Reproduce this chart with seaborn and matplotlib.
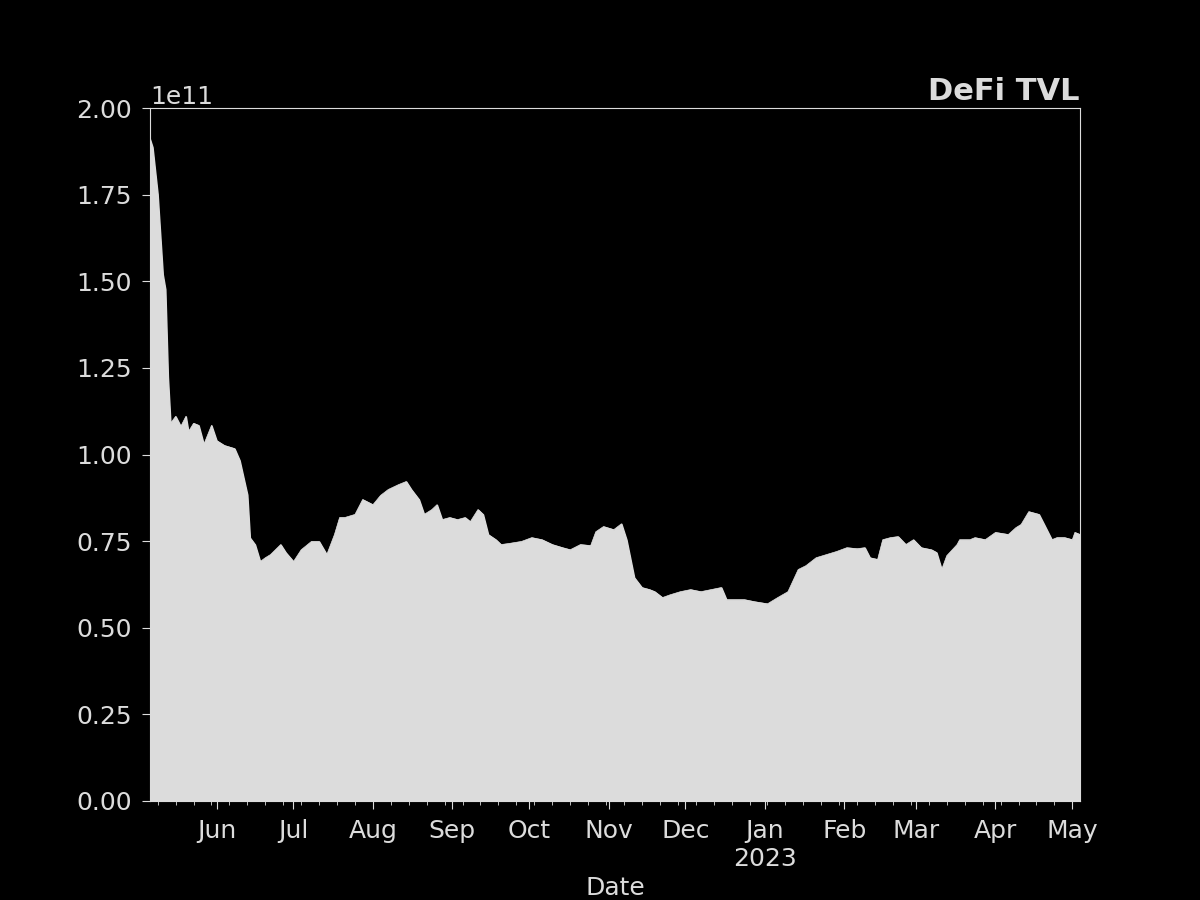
import numpy as np, pandas as pd, matplotlib
matplotlib.use("Agg")
import matplotlib.pyplot as plt, matplotlib.dates as mdates
import matplotlib.ticker as mticker
import seaborn as sns

day_offsets = [0,1,3,5,6,7,8,10,12,14,15,17,19,21,24,26,29,33,35,38,39,41,43,45,47,51,53,56,59,63,66,69,72,74,76,80,83,87,90,93,97,100,102,105,107,110,112,114,117,120,123,125,128,130,132,135,137,140,145,149,153,157,161,164,168,172,174,177,181,184,186,189,192,195,197,200,203,207,211,215,219,223,225,228,232,236,241,245,249,253,256,260,264,268,272,276,279,281,284,286,289,292,295,298,301,305,307,309,311,315,316,320,322,326,330,335,338,340,343,347,349,352,354,357,360,361,363]
tvl_1e11 = [1.910,1.887,1.751,1.520,1.477,1.225,1.090,1.110,1.081,1.110,1.066,1.090,1.084,1.029,1.084,1.040,1.026,1.017,0.983,0.884,0.760,0.740,0.691,0.702,0.711,0.740,0.717,0.691,0.725,0.749,0.749,0.711,0.769,0.818,0.818,0.827,0.870,0.855,0.882,0.899,0.913,0.922,0.899,0.870,0.827,0.841,0.855,0.812,0.818,0.812,0.818,0.806,0.841,0.827,0.769,0.754,0.740,0.743,0.749,0.760,0.754,0.740,0.731,0.725,0.740,0.737,0.777,0.792,0.783,0.800,0.754,0.645,0.616,0.610,0.604,0.587,0.595,0.604,0.610,0.604,0.610,0.616,0.581,0.581,0.581,0.575,0.569,0.587,0.604,0.668,0.679,0.702,0.711,0.720,0.731,0.728,0.731,0.702,0.697,0.754,0.760,0.763,0.740,0.754,0.731,0.725,0.717,0.668,0.708,0.740,0.754,0.754,0.760,0.754,0.775,0.769,0.789,0.798,0.835,0.827,0.798,0.754,0.760,0.760,0.754,0.775,0.769]

dates = pd.Timestamp("2022-05-06") + pd.to_timedelta(day_offsets, unit="D")
df = pd.DataFrame({"Date": dates, "TVL": np.array(tvl_1e11) * 1e11})

sns.set_style("dark")
fg = "#dcdcdc"
plt.rcParams.update({"figure.facecolor": "black", "axes.facecolor": "black",
                     "axes.edgecolor": fg, "text.color": fg, "axes.labelcolor": fg,
                     "xtick.color": fg, "ytick.color": fg, "font.size": 18,
                     "axes.grid": False})
plt.rcParams['font.family'] = ['DejaVu Sans']
fig, ax = plt.subplots(figsize=(12, 9), dpi=100)
fig.subplots_adjust(left=0.125, right=0.9, bottom=0.11, top=0.88)
sns.lineplot(data=df, x="Date", y="TVL", ax=ax, color=fg, lw=0.5)
ax.fill_between(df["Date"], df["TVL"], color=fg)
ax.set_xlim(df["Date"].iloc[0], df["Date"].iloc[-1])
ax.set_ylim(0, 2e11)
ax.set_yticks(np.arange(0, 2.01e11, 0.25e11))
ax.yaxis.get_offset_text().set_fontsize(18)

def fmt(x, p):
    d = mdates.num2date(x)
    return d.strftime("%b\n%Y") if d.month == 1 else d.strftime("%b")

ax.xaxis.set_major_locator(mdates.MonthLocator())
ax.xaxis.set_major_formatter(mticker.FuncFormatter(fmt))
ax.xaxis.set_minor_locator(mdates.WeekdayLocator(byweekday=mdates.MO))
ax.tick_params(which="both", bottom=True, left=True)
ax.tick_params(which="major", length=6, labelsize=18, pad=7)
ax.tick_params(which="minor", length=3)
for s in ax.spines.values():
    s.set_color(fg)
ax.set_xlabel("Date", fontsize=18)
ax.set_ylabel("")
ax.set_title("DeFi TVL", loc="right", fontweight="bold", fontsize=22)
fig.savefig("out.png", dpi=100, facecolor="black")
